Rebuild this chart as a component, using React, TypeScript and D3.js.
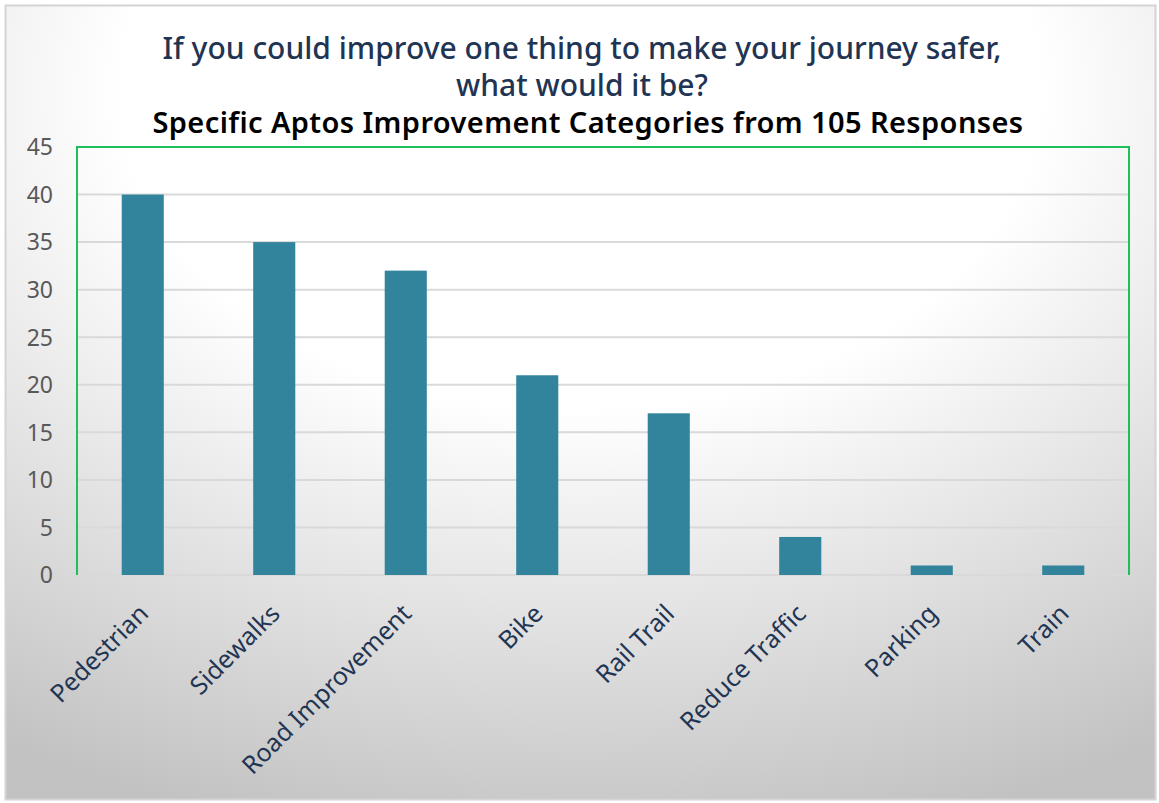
import React from "react";
import * as d3 from "d3";

const categories = ["Pedestrian", "Sidewalks", "Road Improvement", "Bike", "Rail Trail", "Reduce Traffic", "Parking", "Train"];
const values = [40, 35, 32, 21, 17, 4, 1, 1];
const yTicks = [0, 5, 10, 15, 20, 25, 30, 35, 40, 45];
const titleLines = ["If you could improve one thing to make your journey safer,", "what would it be?"];
const subtitle = "Specific Aptos Improvement Categories from 105 Responses";

const W = 1159, H = 803;
const left = 77, right = 1129, top = 147, bottom = 575;

export default function App() {
  const x = d3.scaleBand<string>().domain(categories).range([left, right]).paddingInner(0.68).paddingOuter(0.34);
  const y = d3.scaleLinear().domain([0, 45]).range([bottom, top]);
  const font = "'Noto Sans', 'Open Sans', sans-serif";
  return (
    <svg width={W} height={H} style={{ position: "absolute", left: 0, top: 0 }} fontFamily={font}>
      <defs>
        <radialGradient id="bg" cx="0.5" cy="0.12" r="0.95" fx="0.5" fy="0.1">
          <stop offset="0" stopColor="#ffffff" />
          <stop offset="0.42" stopColor="#ffffff" />
          <stop offset="1" stopColor="#c2c2c2" />
        </radialGradient>
      </defs>
      <rect x={0} y={0} width={W} height={H} fill="#ffffff" />
      <rect x={5.5} y={5.5} width={1150} height={794} fill="url(#bg)" stroke="#d4d4d4" strokeWidth={2} />
      {titleLines.map((t, i) => (
        <text key={i} x={582} y={59 + i * 37} textAnchor="middle" fontSize={30} fill="#1f3553" fontWeight={500}>{t}</text>
      ))}
      <text x={588} y={133} textAnchor="middle" fontSize={29} fill="#000" fontWeight={600} letterSpacing={0.4}>{subtitle}</text>
      {yTicks.map((t) => (
        <g key={t}>
          {t > 0 && t < 45 && <line x1={left} x2={right} y1={y(t)} y2={y(t)} stroke="#d9d9d9" strokeWidth={2} />}
          <text x={53} y={y(t)} dy="0.36em" textAnchor="end" fontSize={23} fill="#595959">{t}</text>
        </g>
      ))}
      <line x1={left} x2={right} y1={y(0)} y2={y(0)} stroke="#d9d9d9" strokeWidth={2} />
      {categories.map((c, i) => (
        <rect key={c} x={x(c)!} y={y(values[i])} width={x.bandwidth()} height={y(0) - y(values[i])} fill="#31849b" />
      ))}
      <path d={`M${left},${bottom} V${top} H${right} V${bottom}`} fill="none" stroke="#1fbf5a" strokeWidth={2} />
      {categories.map((c) => {
        const cx = x(c)! + x.bandwidth() / 2 + 1;
        const cy = bottom + 34;
        return (
          <text key={c} transform={`translate(${cx},${cy}) rotate(-45)`} textAnchor="end" dy="0.35em" fontSize={25} fill="#1f3553">{c}</text>
        );
      })}
    </svg>
  );
}
